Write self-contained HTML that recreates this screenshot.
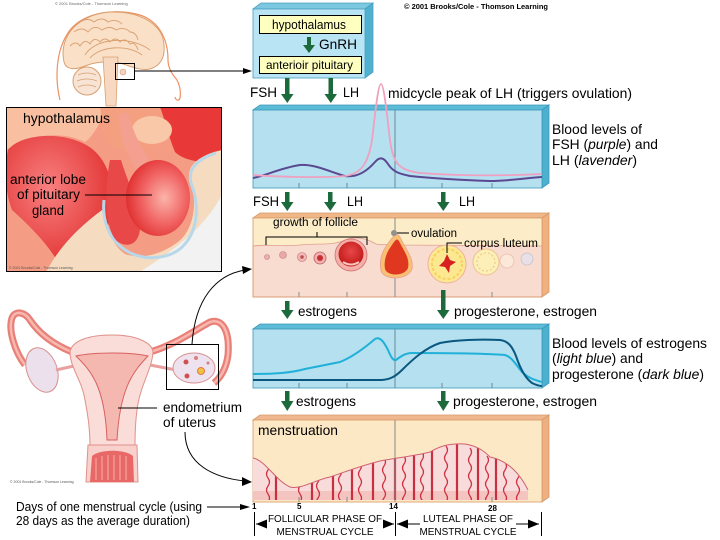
<!DOCTYPE html>
<html><head><meta charset="utf-8"><style>
html,body{margin:0;padding:0;background:#fff;}
svg{display:block;}
text{font-family:"Liberation Sans",Arial,sans-serif;fill:#000;}
</style></head><body>
<svg width="720" height="540" viewBox="0 0 720 540" xmlns="http://www.w3.org/2000/svg">
<defs>
  <radialGradient id="antG" cx="0.6" cy="0.5" r="0.6">
    <stop offset="0" stop-color="#fbb4aa"/><stop offset="0.6" stop-color="#f06060"/><stop offset="1" stop-color="#e03030"/>
  </radialGradient>
  <radialGradient id="redG" cx="0.4" cy="0.4" r="0.7">
    <stop offset="0" stop-color="#f88080"/><stop offset="1" stop-color="#e02a2a"/>
  </radialGradient>
  <radialGradient id="folG" cx="0.5" cy="0.4" r="0.6">
    <stop offset="0" stop-color="#e84848"/><stop offset="1" stop-color="#c01818"/>
  </radialGradient>
  <clipPath id="hypClip"><rect x="6" y="107" width="216" height="165"/></clipPath>
  <clipPath id="endoClip"><path d="M253,458 C265,460 275,480 290,487 C300,490 315,480 330,477 C345,472 360,466 380,461 C395,458 415,456 430,452 C440,446 450,443 465,444 C478,446 485,452 490,457 C505,460 518,470 528,490 L528,500 L253,500 Z"/></clipPath>
  <path id="sq" d="M0,0 q3,4 0,8 q-3,4 0,8 q3,4 0,8 q-3,4 0,8 q3,4 0,8 q-3,4 0,8 q3,4 0,8" fill="none" stroke="#d03040" stroke-width="1.3"/>
</defs>

<!-- copyright -->
<text x="404" y="9" font-size="7.5" font-weight="bold" textLength="144" lengthAdjust="spacingAndGlyphs">© 2001 Brooks/Cole - Thomson Learning</text>

<!-- ===== BRAIN ===== -->
<text x="55" y="5" font-size="4" style="fill:#666">© 2001 Brooks/Cole - Thomson Learning</text>
<path d="M60,100 C55,80 55,50 70,30 C85,12 115,8 140,15 C160,22 168,40 168,60 C168,68 172,74 177,80 C180,86 181,92 180,98 C179,101 176,101 175,97" fill="none" stroke="#f09060" stroke-width="1.2"/>
<path d="M64,62 C58,35 80,14 110,12 C142,11 164,26 164,46 C165,58 160,66 150,69 C140,71 130,66 120,63 C105,61 95,62 85,66 C75,70 66,70 64,62 Z" fill="#fbe0c8" stroke="#d8a070" stroke-width="1"/>
<path d="M70,46 q6,-6 10,0 q5,-8 10,-2 q4,-8 10,-2 q5,-6 10,0 q6,-6 10,0 q5,-5 10,2 q5,-3 8,6 M74,32 q8,-6 14,0 q6,-8 14,-2 q8,-5 14,0 q8,-4 14,2 q6,0 8,8 M80,22 q8,-5 14,0 q8,-6 14,0 q8,-4 14,2 M85,55 C95,38 130,35 150,50 M90,58 C100,46 128,44 142,55" fill="none" stroke="#d8a070" stroke-width="0.9"/>
<circle cx="87" cy="81" r="14" fill="#f8e4d4" stroke="#d8a070"/>
<path d="M78,75 q9,-4 18,0 M77,81 q10,-4 20,0 M78,87 q9,-4 18,0" fill="none" stroke="#d8a070" stroke-width="0.7"/>
<path d="M103,57 L118,57 L116,106 L106,106 Z" fill="#f8d8c0" stroke="#d8a070" stroke-width="0.8"/>
<circle cx="123" cy="72" r="3" fill="#f8d0c0" stroke="#d8a070" stroke-width="0.6"/>
<rect x="115.5" y="63.5" width="19" height="16" fill="none" stroke="#000" stroke-width="1"/>
<line x1="135" y1="71" x2="245" y2="71" stroke="#000" stroke-width="1"/>
<polygon points="243,68 252,71 243,74" fill="#000"/>

<!-- ===== HYPOTHALAMUS IMAGE ===== -->
<g clip-path="url(#hypClip)">
  <rect x="6" y="107" width="216" height="165" fill="#f49c84"/>
  <path d="M6,107 L110,107 C100,120 95,135 85,142 C60,130 30,135 6,150 Z" fill="#f8c0a0"/>
  <path d="M100,107 L175,107 C170,125 165,140 150,150 C130,155 115,150 105,140 Z" fill="#f4a080"/>
  <path d="M160,107 L222,107 L222,165 C205,162 185,162 175,152 C168,135 165,120 160,107 Z" fill="#e83838"/>
  <ellipse cx="152" cy="130" rx="20" ry="14" fill="#f8c8a8"/>
  <ellipse cx="72" cy="152" rx="11" ry="6" fill="#f8c8a8"/>
  <path d="M8,150 C20,134 62,130 88,146 C104,156 112,175 113,198 C113,220 102,240 94,258 L60,266 C50,246 30,226 12,210 C5,192 4,168 8,150 Z" fill="url(#redG)"/>
  <path d="M46,272 C60,246 78,228 102,210 C108,222 108,242 125,254 C142,260 162,254 178,242 C194,230 198,202 190,180 C186,168 196,158 214,152 L222,150 L222,272 Z" fill="#f5dcc0"/>
  <path d="M140,272 C165,255 200,235 222,195 L222,272 Z" fill="#f2f2f2"/>
  <path d="M104,200 C100,240 130,262 160,257 C196,252 202,212 192,186 C186,170 196,160 216,153" fill="none" stroke="#b8d8ea" stroke-width="3"/>
  <path d="M118,115 C122,145 132,168 145,182 L158,172 C142,152 132,130 128,112 Z" fill="#f4a090"/>
  <path d="M110,160 C104,190 104,230 118,242 C132,250 142,240 140,220 C137,200 127,180 121,160 Z" fill="#e84848"/>
  <ellipse cx="158" cy="198" rx="32" ry="38" fill="url(#antG)"/>
</g>
<rect x="6.5" y="107.5" width="215" height="164" fill="none" stroke="#000" stroke-width="1"/>
<text x="23" y="123" font-size="14" textLength="87" lengthAdjust="spacingAndGlyphs">hypothalamus</text>
<text x="10" y="184" font-size="13.5" textLength="76" lengthAdjust="spacingAndGlyphs">anterior lobe</text>
<text x="17" y="199" font-size="13.5" textLength="63" lengthAdjust="spacingAndGlyphs">of pituitary</text>
<text x="32" y="215" font-size="13.5" textLength="32" lengthAdjust="spacingAndGlyphs">gland</text>
<line x1="85" y1="195" x2="152" y2="195" stroke="#000" stroke-width="1"/>
<text x="9" y="269" font-size="3.5" style="fill:#555">© 2001 Brooks/Cole - Thomson Learning</text>

<!-- ===== UTERUS ===== -->
<path d="M72,352 C55,345 40,335 30,320 C25,312 15,310 12,318 C8,330 15,352 25,365" fill="none" stroke="#e88078" stroke-width="7"/>
<path d="M72,352 C55,345 40,335 30,320 C25,312 15,310 12,318 C8,330 15,352 25,365" fill="none" stroke="#f8b8b0" stroke-width="2.5"/>
<ellipse cx="42" cy="370" rx="15" ry="23" transform="rotate(-20 42 370)" fill="#ece0ec" stroke="#d89090"/>
<line x1="56" y1="370" x2="74" y2="366" stroke="#e8a0a0" stroke-width="3"/>
<path d="M150,352 C175,345 195,330 210,322 C222,318 230,330 228,355 C226,370 220,378 214,383" fill="none" stroke="#e88078" stroke-width="7"/>
<path d="M150,352 C175,345 195,330 210,322 C222,318 230,330 228,355 C226,370 220,378 214,383" fill="none" stroke="#f8b8b0" stroke-width="2.5"/>
<line x1="150" y1="365" x2="176" y2="370" stroke="#e8a0a0" stroke-width="3"/>
<ellipse cx="194" cy="368" rx="21" ry="15" fill="#eee2ee" stroke="#d89090"/>
<circle cx="186" cy="362" r="2.5" fill="#d05050"/><circle cx="196" cy="358" r="2" fill="#d88080"/>
<circle cx="201" cy="371" r="3.5" fill="#f0c040" stroke="#e06030" stroke-width="0.8"/>
<circle cx="187" cy="376" r="2.5" fill="#d05050"/><circle cx="208" cy="363" r="1.5" fill="#d08080"/>
<path d="M70,352 C72,340 90,335 112,335 C135,335 152,342 153,352 C152,370 140,385 137,410 C135,425 135,440 135,445 L90,445 C90,430 88,415 85,400 C82,380 70,368 70,352 Z" fill="#fadcd8" stroke="#e09088"/>
<path d="M76,356 C95,352 130,352 148,356 C135,370 120,385 117,440 L107,440 C105,385 90,370 76,356 Z" fill="#f4b8b0" stroke="#d86060"/>
<path d="M88,445 L137,445 L138,482 L86,482 Z" fill="#f8d0cc" stroke="#e09088"/>
<path d="M92,456 C100,449 125,449 133,456 L134,482 L90,482 Z" fill="#e86868"/>
<path d="M96,458 v22 M102,456 v24 M108,455 v25 M114,455 v25 M120,455 v25 M126,456 v24" stroke="#f8b0a8" stroke-width="1"/>
<text x="10" y="483" font-size="3.5" style="fill:#555">© 2001 Brooks/Cole - Thomson Learning</text>
<rect x="166.5" y="344.5" width="52" height="45" fill="none" stroke="#000" stroke-width="1"/>
<line x1="118" y1="408" x2="157" y2="408" stroke="#000" stroke-width="1"/>
<text x="163" y="412" font-size="14" textLength="79" lengthAdjust="spacingAndGlyphs">endometrium</text>
<text x="163" y="427" font-size="14" textLength="53" lengthAdjust="spacingAndGlyphs">of uterus</text>
<path d="M192,344 C195,300 215,275 245,270" fill="none" stroke="#000" stroke-width="1"/>
<polygon points="242,266 252,269 243,274" fill="#000"/>
<path d="M185,432 C185,465 215,478 245,481" fill="none" stroke="#000" stroke-width="1"/>
<polygon points="242,477 252,482 242,486" fill="#000"/>
<text x="16" y="511" font-size="12.5" textLength="186" lengthAdjust="spacingAndGlyphs">Days of one menstrual cycle (using</text>
<text x="16" y="525" font-size="12.5" textLength="174" lengthAdjust="spacingAndGlyphs">28 days as the average duration)</text>
<line x1="207" y1="507" x2="244" y2="507" stroke="#000" stroke-width="1"/>
<polygon points="240,504 250,507 240,510" fill="#000"/>

<!-- ===== BOX 1 ===== -->
<polygon points="253,9 261,3 373,3 365,9" fill="#7cc8e0" stroke="#4aa0c0" stroke-width="0.8"/>
<polygon points="365,9 373,3 373,72 365,78" fill="#50b0d0" stroke="#4aa0c0" stroke-width="0.8"/>
<rect x="253" y="9" width="112" height="69" fill="#b8e4f4" stroke="#4aa0c0" stroke-width="0.8"/>
<rect x="259.5" y="15.5" width="102" height="18" fill="#ffffc0" stroke="#000"/>
<text x="272" y="29" font-size="13" textLength="74" lengthAdjust="spacingAndGlyphs">hypothalamus</text>
<rect x="259.5" y="56.5" width="102" height="17" fill="#ffffc0" stroke="#000"/>
<text x="266" y="69" font-size="12" textLength="87" lengthAdjust="spacingAndGlyphs">anterioir pituitary</text>
<rect x="307" y="37" width="4" height="9" fill="#1c6a3c"/><polygon points="303,45 315,45 309,53" fill="#1c6a3c"/>
<text x="319" y="49" font-size="14" textLength="38" lengthAdjust="spacingAndGlyphs">GnRH</text>

<!-- arrows row 1 -->
<g fill="#1c6a3c">
<rect x="285" y="78" width="4.5" height="17"/><polygon points="281,94 293.5,94 287.3,103"/>
<rect x="328.5" y="78" width="4.5" height="17"/><polygon points="324.5,94 337,94 330.8,103"/>
</g>
<text x="250" y="97" font-size="14" textLength="27" lengthAdjust="spacingAndGlyphs">FSH</text>
<text x="343" y="97" font-size="14" textLength="16" lengthAdjust="spacingAndGlyphs">LH</text>
<text x="388" y="98" font-size="14" textLength="244" lengthAdjust="spacingAndGlyphs">midcycle peak of LH (triggers ovulation)</text>

<!-- ===== BOX 2 (FSH/LH) ===== -->
<polygon points="253,110 260,105 549,105 542,110" fill="#5cbcd8" stroke="#3a98b8" stroke-width="0.8"/>
<polygon points="542,110 549,105 549,183 542,188" fill="#4eb0d0" stroke="#3a98b8" stroke-width="0.8"/>
<rect x="253" y="110" width="289" height="78" fill="#b4e0f0" stroke="#3a98b8" stroke-width="0.8"/>
<line x1="395" y1="110" x2="395" y2="188" stroke="#6a8a98" stroke-width="1"/>
<path d="M299,188 v-5 M347,188 v-5 M442,188 v-5 M492,188 v-5" stroke="#6a8a98" stroke-width="1"/>
<path d="M253,178 C265,176 280,168 300,165 C315,164 330,172 345,176 C358,178 368,170 375,162 C380,156 384,158 388,164 C393,172 400,174 410,176 C430,178 460,180 490,181 C510,181 525,178 542,177" fill="none" stroke="#5a4890" stroke-width="2"/>
<path d="M253,175 C280,177 320,178 345,176 C360,174 368,165 372,140 C375,115 378,84 381,84 C384,84 387,115 390,140 C393,165 400,170 420,173 C460,176 500,176 542,174" fill="none" stroke="#f0a0c0" stroke-width="1.8"/>
<text x="552" y="134" font-size="14" textLength="90" lengthAdjust="spacingAndGlyphs">Blood levels of</text>
<text x="552" y="149" font-size="14" textLength="106" lengthAdjust="spacingAndGlyphs">FSH (<tspan font-style="italic">purple</tspan>) and</text>
<text x="552" y="165" font-size="14" textLength="85" lengthAdjust="spacingAndGlyphs">LH (<tspan font-style="italic">lavender</tspan>)</text>

<!-- arrows row 2 -->
<g fill="#1c6a3c">
<rect x="285" y="192" width="4.5" height="11"/><polygon points="281,202 293.5,202 287.3,211"/>
<rect x="328" y="192" width="4.5" height="11"/><polygon points="324,202 336.5,202 330.3,211"/>
<rect x="441" y="192" width="4.5" height="11"/><polygon points="437,202 449.5,202 443.3,211"/>
</g>
<text x="253" y="206" font-size="14" textLength="26" lengthAdjust="spacingAndGlyphs">FSH</text>
<text x="347" y="206" font-size="14" textLength="16" lengthAdjust="spacingAndGlyphs">LH</text>
<text x="459" y="206" font-size="14" textLength="16" lengthAdjust="spacingAndGlyphs">LH</text>

<!-- ===== BOX 3 (follicles) ===== -->
<polygon points="253,218 260,213 549,213 542,218" fill="#f0b888" stroke="#d89868" stroke-width="0.8"/>
<polygon points="542,218 549,213 549,292 542,297" fill="#f0b080" stroke="#d89868" stroke-width="0.8"/>
<rect x="253" y="218" width="289" height="79" fill="#fcecc8"/>
<path d="M253,246 C270,244 285,247 300,245 C320,243 332,246 345,240 C355,236 366,238 376,244 C385,246 392,243 398,245 L542,246 L542,297 L253,297 Z" fill="#f8dcd0" stroke="#e0a090" stroke-width="0.8"/>
<rect x="253" y="218" width="289" height="79" fill="none" stroke="#d89868" stroke-width="0.8"/>
<line x1="395" y1="218" x2="395" y2="297" stroke="#8a8a8a" stroke-width="1"/>
<path d="M299,297 v-5 M347,297 v-5 M492,297 v-5" stroke="#8a8a8a" stroke-width="1"/>
<circle cx="267" cy="257" r="2.5" fill="#e8b0b0" stroke="#c88080" stroke-width="0.6"/>
<circle cx="283" cy="255" r="3.5" fill="#e8a8a8" stroke="#c88080" stroke-width="0.6"/>
<circle cx="302" cy="257" r="4.5" fill="#f0b8b8" stroke="#c87070" stroke-width="0.6"/><circle cx="302" cy="257" r="1.8" fill="#c05050"/>
<circle cx="320" cy="258" r="6" fill="#f0b0b0" stroke="#c06060" stroke-width="0.8"/><circle cx="320" cy="258" r="3" fill="#c83030"/>
<circle cx="351" cy="255" r="16" fill="#f4b0a8" stroke="#d07070" stroke-width="0.8"/>
<circle cx="351" cy="254" r="12.5" fill="url(#folG)"/>
<path d="M343,262 q8,5 16,0" fill="none" stroke="#f8c8c0" stroke-width="2"/>
<path d="M381,271 C378,255 386,246 392,238 C396,233 399,234 401,239 C406,250 414,258 412,269 C408,280 385,281 381,271 Z" fill="#f8c070" stroke="#e8a090" stroke-width="0.8"/>
<path d="M385,269 C383,256 390,248 394,242 C397,238 398,239 400,243 C404,251 410,258 408,268 C405,276 388,277 385,269 Z" fill="#e03820"/>
<circle cx="447" cy="264" r="19" fill="#fce890" stroke="#f0b0a0" stroke-width="1"/>
<circle cx="447" cy="264" r="15" fill="none" stroke="#f8d060" stroke-width="2" stroke-dasharray="3 2"/>
<polygon points="447,254 450,260 456,262 450,266 449,273 445,267 439,266 444,261" fill="#d82020"/>
<circle cx="486" cy="262" r="13" fill="#fcf0b8" stroke="#f0c090" stroke-width="1"/>
<circle cx="486" cy="262" r="9" fill="none" stroke="#f0d090" stroke-width="1.5" stroke-dasharray="2 2"/>
<circle cx="507" cy="261" r="7" fill="#fce8d8" stroke="#e8c0b0" stroke-width="0.8"/>
<circle cx="527" cy="259" r="6" fill="#e8e0e8" stroke="#c8c0c8" stroke-width="0.8"/>
<text x="273" y="226" font-size="11.5" textLength="85" lengthAdjust="spacingAndGlyphs">growth of follicle</text>
<path d="M266,245 V237 H367 V245 M317,237 V232" fill="none" stroke="#000" stroke-width="1"/>
<circle cx="394" cy="233" r="3" fill="#909090"/>
<line x1="397" y1="233" x2="409" y2="233" stroke="#000" stroke-width="1"/>
<text x="411" y="237" font-size="11.5" textLength="46" lengthAdjust="spacingAndGlyphs">ovulation</text>
<path d="M447,253 V243 H462" fill="none" stroke="#000" stroke-width="1"/>
<text x="464" y="247" font-size="11.5" textLength="74" lengthAdjust="spacingAndGlyphs">corpus luteum</text>

<!-- arrows row 3 -->
<g fill="#1c6a3c">
<rect x="285" y="301" width="4.5" height="10"/><polygon points="281,310 293.5,310 287.3,319"/>
<rect x="441" y="290" width="4.5" height="21"/><polygon points="437,310 449.5,310 443.3,319"/>
</g>
<text x="298" y="316" font-size="14" textLength="59" lengthAdjust="spacingAndGlyphs">estrogens</text>
<text x="454" y="316" font-size="14" textLength="143" lengthAdjust="spacingAndGlyphs">progesterone, estrogen</text>

<!-- ===== BOX 4 (estrogen/progesterone) ===== -->
<polygon points="253,329 260,324 549,324 542,329" fill="#5cbcd8" stroke="#3a98b8" stroke-width="0.8"/>
<polygon points="542,329 549,324 549,383 542,388" fill="#4eb0d0" stroke="#3a98b8" stroke-width="0.8"/>
<rect x="253" y="329" width="289" height="59" fill="#b4e0f0" stroke="#3a98b8" stroke-width="0.8"/>
<line x1="395" y1="329" x2="395" y2="388" stroke="#6a8a98" stroke-width="1"/>
<path d="M299,388 v-5 M347,388 v-5 M442,388 v-5 M492,388 v-5" stroke="#6a8a98" stroke-width="1"/>
<path d="M253,374 C275,374 290,373 305,369 C320,366 330,364 340,362 C355,356 368,345 375,339 C380,336 384,342 388,350 C391,357 393,361 396,360 C400,357 405,353 412,353 C440,353 480,353 505,355 C512,357 516,365 522,372 C528,378 535,380 542,382" fill="none" stroke="#20b0d8" stroke-width="2"/>
<path d="M253,380 L380,380 C390,380 396,376 402,370 C412,360 425,348 440,343 C455,340 480,339 500,340 C508,341 512,346 516,356 C520,368 525,378 532,383 C536,385 540,386 542,386" fill="none" stroke="#0a5880" stroke-width="2"/>
<text x="552" y="348" font-size="14" textLength="155" lengthAdjust="spacingAndGlyphs">Blood levels of estrogens</text>
<text x="552" y="363" font-size="14" textLength="91" lengthAdjust="spacingAndGlyphs">(<tspan font-style="italic">light blue</tspan>) and</text>
<text x="552" y="379" font-size="14" textLength="152" lengthAdjust="spacingAndGlyphs">progesterone (<tspan font-style="italic">dark blue</tspan>)</text>

<!-- arrows row 4 -->
<g fill="#1c6a3c">
<rect x="285" y="391" width="4.5" height="11"/><polygon points="281,401 293.5,401 287.3,411"/>
<rect x="441" y="391" width="4.5" height="11"/><polygon points="437,401 449.5,401 443.3,411"/>
</g>
<text x="296" y="406" font-size="14" textLength="60" lengthAdjust="spacingAndGlyphs">estrogens</text>
<text x="453" y="406" font-size="14" textLength="144" lengthAdjust="spacingAndGlyphs">progesterone, estrogen</text>

<!-- ===== BOX 5 (endometrium) ===== -->
<polygon points="253,420 260,415 549,415 542,420" fill="#f0b890" stroke="#d89868" stroke-width="0.8"/>
<polygon points="542,420 549,415 549,497 542,502" fill="#eeb080" stroke="#d89868" stroke-width="0.8"/>
<rect x="253" y="420" width="289" height="82" fill="#fce8c4" stroke="#d89868" stroke-width="0.8"/>
<path d="M253,458 C265,460 275,480 290,487 C300,490 315,480 330,477 C345,472 360,466 380,461 C395,458 415,456 430,452 C440,446 450,443 465,444 C478,446 485,452 490,457 C505,460 518,470 528,490 L528,500 L253,500 Z" fill="#f8dcdc"/>
<g clip-path="url(#endoClip)">
  <rect x="253" y="491" width="276" height="10" fill="#f4c4c0"/>
  <use href="#sq" x="268" y="462"/><use href="#sq" x="300" y="478"/><use href="#sq" x="318" y="474"/>
  <use href="#sq" x="340" y="468"/><use href="#sq" x="360" y="462"/><use href="#sq" x="384" y="458"/>
  <use href="#sq" x="404" y="456"/><use href="#sq" x="422" y="452"/><use href="#sq" x="446" y="446"/>
  <use href="#sq" x="470" y="448"/><use href="#sq" x="487" y="456"/><use href="#sq" x="505" y="462"/>
  <use href="#sq" x="518" y="470"/>
  <path d="M276,468 V500 M312,478 V500 M333,472 V500 M352,466 V500 M373,460 V500 M395,456 V500 M414,453 V500 M432,449 V500 M457,444 V500 M478,447 V500 M496,458 V500" stroke="#c83040" stroke-width="2.2"/>
</g>
<path d="M253,458 C265,460 275,480 290,487 C300,490 315,480 330,477 C345,472 360,466 380,461 C395,458 415,456 430,452 C440,446 450,443 465,444 C478,446 485,452 490,457 C505,460 518,470 528,490" fill="none" stroke="#d06070" stroke-width="1"/>
<line x1="395" y1="420" x2="395" y2="502" stroke="#8a8a8a" stroke-width="1"/>
<path d="M299,502 v-5 M347,502 v-5 M492,502 v-5" stroke="#8a8a8a" stroke-width="1"/>
<text x="258" y="435" font-size="14" textLength="80" lengthAdjust="spacingAndGlyphs">menstruation</text>

<!-- ===== AXIS ===== -->
<g font-size="8" font-weight="bold">
<text x="252" y="509">1</text><text x="297" y="509">5</text><text x="389" y="509">14</text><text x="488" y="511">28</text>
</g>
<path d="M254.5,512 V536 M395.5,512 V536 M541.5,512 V536" stroke="#000" stroke-width="1"/>
<path d="M256,524 H267 M384,524 H394 M397,524 H420 M516,524 H539" stroke="#000" stroke-width="1"/>
<polygon points="256,524 267,519.5 267,528.5" fill="#000"/>
<polygon points="394,524 383,519.5 383,528.5" fill="#000"/>
<polygon points="397,524 408,519.5 408,528.5" fill="#000"/>
<polygon points="539,524 528,519.5 528,528.5" fill="#000"/>
<text x="325" y="522" font-size="10" text-anchor="middle" textLength="114" lengthAdjust="spacingAndGlyphs">FOLLICULAR PHASE OF</text>
<text x="325" y="535" font-size="10" text-anchor="middle" textLength="97" lengthAdjust="spacingAndGlyphs">MENSTRUAL CYCLE</text>
<text x="468" y="522" font-size="10" text-anchor="middle" textLength="90" lengthAdjust="spacingAndGlyphs">LUTEAL PHASE OF</text>
<text x="468" y="535" font-size="10" text-anchor="middle" textLength="97" lengthAdjust="spacingAndGlyphs">MENSTRUAL CYCLE</text>
</svg>
</body></html>
